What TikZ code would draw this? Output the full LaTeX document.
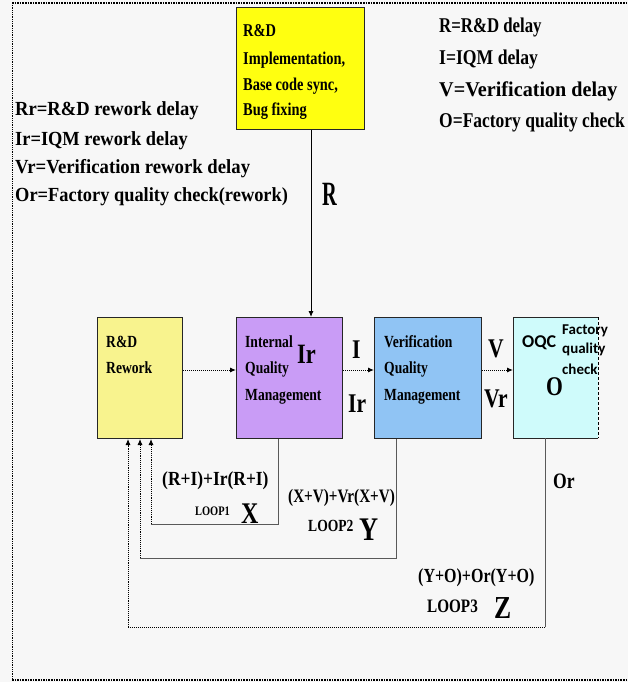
\documentclass[tikz,border=0pt]{standalone}
\usepackage{graphicx}
\usepackage{fontspec}
\setmainfont{Liberation Serif}
\newfontfamily\cs[FakeStretch=0.8]{Liberation Serif}
\newfontfamily\carl{Carlito}
\usetikzlibrary{arrows.meta}
\newcommand\fsz[1]{\fontsize{#1}{#1}\selectfont}
\newcommand\sx[2]{\scalebox{#1}[1]{#2}}
\definecolor{topyel}{HTML}{FFFF10}
\definecolor{rwyel}{HTML}{F8F38E}
\definecolor{iqmpur}{HTML}{C99CF6}
\definecolor{verblue}{HTML}{90C4F4}
\definecolor{oqccyan}{HTML}{CFFBFB}
\tikzset{
  txt/.style={inner sep=0, anchor=base west, font=\cs\bfseries},
  box/.style={draw=black!85, line width=1pt, inner sep=0, anchor=north west},
  flow/.style={densely dotted, line width=1pt, -{Latex[length=6pt,width=5pt]}},
  loopln/.style={draw=black!65, line width=0.9pt},
  backln/.style={densely dotted, line width=0.9pt, -{Latex[length=6pt,width=5pt]}}
}
\begin{document}
\begin{tikzpicture}[x=1pt,y=-1pt]
\fill[black!3] (0,0) rectangle (628,682);
\useasboundingbox (0,0) rectangle (628,682);
% frame
\draw[densely dotted, line width=1.6pt] (12,3) -- (628,3);
\draw[densely dotted, line width=0.8pt] (12,3) -- (12,680);
\draw[densely dotted, line width=1.6pt] (12,680) -- (628,680);

% boxes
\node[box, fill=topyel, minimum width=128pt, minimum height=122pt] (rd) at (236,7) {};
\node[box, fill=rwyel, minimum width=85pt, minimum height=121pt] (rw) at (97,317) {};
\node[box, fill=iqmpur, minimum width=106pt, minimum height=121pt] (iqm) at (236,317) {};
\node[box, fill=verblue, minimum width=107pt, minimum height=121pt] (ver) at (374,317) {};
\node[inner sep=0, anchor=north west, fill=oqccyan, minimum width=85pt, minimum height=121pt] (oqc) at (513,317) {};
\draw[draw=black!85, line width=1pt] (oqc.north east) -- (oqc.north west) -- (oqc.south west) -- (oqc.south east);
\draw[densely dashed, line width=1pt] (oqc.north east) -- (oqc.south east);

% top box text
\node[txt, font=\cs\bfseries\fsz{18}] (t1) at (243,37) {R\&D};
\node[txt, font=\cs\bfseries\fsz{18}] (t2) at (243,65) {Implementation,};
\node[txt, font=\cs\bfseries\fsz{18}] (t3) at (243,91) {Base code sync,};
\node[txt, font=\cs\bfseries\fsz{18}] (t4) at (243,116) {Bug fixing};

% right legend
\node[txt, font=\cs\bfseries\fsz{21}] (lr1) at (439,33) {R=R\&D delay};
\node[txt, font=\cs\bfseries\fsz{21}] (lr2) at (439,65) {\sx{1.05}{I=IQM delay}};
\node[txt, font=\cs\bfseries\fsz{21}] (lr3) at (439,97) {\sx{1.2}{V=Verification delay}};
\node[txt, font=\cs\bfseries\fsz{21}] (lr4) at (439,128) {\sx{1.04}{O=Factory quality check}};

% left legend
\node[txt, font=\cs\bfseries\fsz{20}] (ll1) at (15,116) {\sx{1.16}{Rr=R\&D rework delay}};
\node[txt, font=\cs\bfseries\fsz{20}] (ll2) at (15,145) {\sx{1.15}{Ir=IQM rework delay}};
\node[txt, font=\cs\bfseries\fsz{20}] (ll3) at (15,173) {\sx{1.17}{Vr=Verification rework delay}};
\node[txt, font=\cs\bfseries\fsz{20}] (ll4) at (15,201) {\sx{1.15}{Or=Factory quality check(rework)}};

% R line
\coordinate (rx) at (311,0);
\draw[line width=0.9pt, -{Latex[length=6pt,width=5pt]}] (rd.south -| rx) -- (iqm.north -| rx);
\node[txt, font=\cs\bfseries\fsz{34}] (rlab) at (322,205) {\sx{0.75}{R}};

% box texts
\node[txt, font=\cs\bfseries\fsz{17}] (w1) at (106,347) {R\&D};
\node[txt, font=\cs\bfseries\fsz{17}] (w2) at (106,373) {Rework};
\node[txt, font=\cs\bfseries\fsz{17}] (q1) at (245,347) {Internal};
\node[txt, font=\cs\bfseries\fsz{17}] (q2) at (245,373) {Quality};
\node[txt, font=\cs\bfseries\fsz{17}] (q3) at (245,400) {Management};
\node[txt, font=\cs\bfseries\fsz{28}] (qir) at (297,363) {Ir};
\node[txt, font=\cs\bfseries\fsz{17}] (v1) at (384,347) {Verification};
\node[txt, font=\cs\bfseries\fsz{17}] (v2) at (384,373) {Quality};
\node[txt, font=\cs\bfseries\fsz{17}] (v3) at (384,400) {Management};
\node[txt, font=\carl\bfseries\fsz{18}] (oq) at (522,347) {OQC};
\node[txt, font=\carl\bfseries\fsz{15}] (fq1) at (562,334) {Factory};
\node[txt, font=\carl\bfseries\fsz{15}] (fq2) at (562,353) {quality};
\node[txt, font=\carl\bfseries\fsz{15}] (fq3) at (562,374) {check};
\node[txt, font=\cs\bfseries\fsz{27}] (oo) at (546,395) {O};

% flow arrows
\coordinate (fy) at (0,370);
\draw[flow] (rw.east |- fy) -- (iqm.west |- fy);
\draw[flow] (iqm.east |- fy) -- (ver.west |- fy);
\draw[flow] (ver.east |- fy) -- (oqc.west |- fy);
\node[txt, font=\cs\bfseries\fsz{27}] (il) at (352,358) {I};
\node[txt, font=\cs\bfseries\fsz{27}] (irl) at (348,412) {Ir};
\node[txt, font=\cs\bfseries\fsz{27}] (vl) at (488,357) {V};
\node[txt, font=\cs\bfseries\fsz{27}] (vrl) at (484,407) {Vr};

% loop 1
\coordinate (l1a) at (278,524);
\coordinate (l1b) at (151,524);
\draw[loopln] (iqm.south -| l1a) -- (l1a) -- (l1b);
\draw[backln] (l1b) -- (rw.south -| l1b);
% loop 2
\coordinate (l2a) at (396,558);
\coordinate (l2b) at (140,558);
\draw[loopln] (ver.south -| l2a) -- (l2a) -- (l2b);
\draw[backln] (l2b) -- (rw.south -| l2b);
% loop 3
\coordinate (l3a) at (545,627);
\coordinate (l3b) at (128,627);
\draw[loopln] (oqc.south -| l3a) -- (l3a);
\draw[densely dotted, line width=1pt] (l3a) -- (l3b);
\draw[backln] (l3b) -- (rw.south -| l3b);

% loop labels
\node[txt, font=\cs\bfseries\fsz{20}] (f1) at (162,485) {\sx{1.09}{(R+I)+Ir(R+I)}};
\node[txt, font=\cs\bfseries\fsz{13}] (lp1) at (195,515) {LOOP1};
\node[txt, font=\cs\bfseries\fsz{30}] (xl) at (241,523) {X};
\node[txt, font=\cs\bfseries\fsz{19}] (f2) at (288,502) {(X+V)+Vr(X+V)};
\node[txt, font=\cs\bfseries\fsz{17}] (lp2) at (308,531) {LOOP2};
\node[txt, font=\cs\bfseries\fsz{33}] (yl) at (359,540) {Y};
\node[txt, font=\cs\bfseries\fsz{22}] (orl) at (553,488) {Or};
\node[txt, font=\cs\bfseries\fsz{20}] (f3) at (418,582) {(Y+O)+Or(Y+O)};
\node[txt, font=\cs\bfseries\fsz{19}] (lp3) at (427,612) {LOOP3};
\node[txt, font=\cs\bfseries\fsz{32}] (zl) at (494,618) {Z};
\end{tikzpicture}
\end{document}
